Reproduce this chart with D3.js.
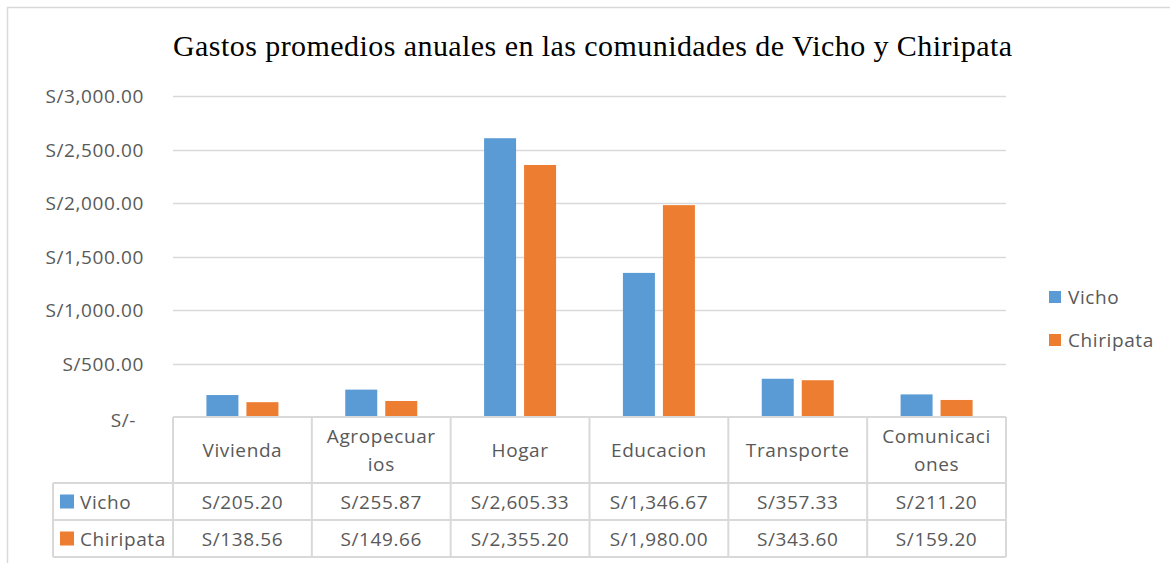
<!DOCTYPE html>
<html>
<head>
<meta charset="utf-8">
<script src="https://cdn.jsdelivr.net/npm/d3@7"></script>
<style>
  body { margin: 0; background: #fff; }
  svg { display: block; }
</style>
</head>
<body>
<svg id="chart"></svg>
<script>
const width = 1170;
const height = 563;

// data
const categories = ['Vivienda', 'Agropecuarios', 'Hogar', 'Educacion', 'Transporte', 'Comunicaciones'];
const seriesNames = ['Vicho', 'Chiripata'];
const vicho = [205.20, 255.87, 2605.33, 1346.67, 357.33, 211.20];
const chiripata = [138.56, 149.66, 2355.20, 1980.00, 343.60, 159.20];
const yTicks = [0, 500, 1000, 1500, 2000, 2500, 3000];
const colors = ['#5b9bd5', '#ed7d31'];
const title = 'Gastos promedios anuales en las comunidades de Vicho y Chiripata';

const series = [vicho, chiripata];

const marginLeft = 173, plotRight = 1006, plotTop = 96, plotBottom = 417;
const rowTops = [417, 483, 520, 557];
const legendColLeft = 53;
const textColor = '#595959';
const gridColor = '#d9d9d9';
const labelFont = "'Open Sans', sans-serif";
const labelSize = '19px';
const labelSpacing = '0.6px';

const svg = d3.select('#chart')
  .attr('width', width)
  .attr('height', height)
  .attr('viewBox', [0, 0, width, height]);

// chart border
svg.append('rect')
  .attr('x', 7.5).attr('y', 7.5)
  .attr('width', width).attr('height', height)
  .attr('fill', 'none')
  .attr('stroke', gridColor)
  .attr('stroke-width', 1.5);

const x = d3.scaleBand()
  .domain(categories)
  .range([marginLeft, plotRight]);

const xInner = d3.scaleBand()
  .domain(seriesNames)
  .range([0, 72])
  .paddingInner(0.2);

const y = d3.scaleLinear()
  .domain([0, 3000])
  .range([plotBottom, plotTop]);

const fmt = d3.format(',.2f');
const money = (v) => (v === 0 ? 'S/-' : 'S/' + fmt(v));

function label(sel) {
  return sel
    .style('font-family', labelFont)
    .style('font-size', labelSize)
    .style('letter-spacing', labelSpacing)
    .style('fill', textColor);
}

// title
svg.append('text')
  .attr('x', marginLeft)
  .attr('y', 56)
  .attr('textLength', 839)
  .attr('lengthAdjust', 'spacing')
  .style('font-family', "'Liberation Serif', 'Times New Roman', serif")
  .style('font-size', '30px')
  .style('fill', '#000')
  .text(title);

// grid
svg.append('g')
  .selectAll('line')
  .data(yTicks.filter((d) => d > 0))
  .join('line')
  .attr('x1', marginLeft)
  .attr('x2', plotRight)
  .attr('y1', (d) => Math.round(y(d)) + 0.5)
  .attr('y2', (d) => Math.round(y(d)) + 0.5)
  .attr('stroke', gridColor)
  .attr('stroke-width', 1.5);

// y labels
svg.append('g')
  .selectAll('text')
  .data(yTicks)
  .join('text')
  .attr('x', (d) => (d === 0 ? 136 : 144))
  .attr('y', (d) => y(d) + (d === 0 ? 3 : 0))
  .attr('text-anchor', 'end')
  .attr('dominant-baseline', 'central')
  .call(label)
  .text(money);

// bars
const groups = svg.append('g')
  .selectAll('g')
  .data(categories)
  .join('g')
  .attr('transform', (d) => `translate(${x(d) + x.bandwidth() / 2 - 36},0)`);

groups.selectAll('rect')
  .data((d, i) => seriesNames.map((s, j) => ({ s, j, v: series[j][i] })))
  .join('rect')
  .attr('x', (d) => xInner(d.s))
  .attr('width', xInner.bandwidth())
  .attr('y', (d) => y(d.v))
  .attr('height', (d) => y(0) - y(d.v))
  .attr('fill', (d) => colors[d.j]);

// data table
const table = svg.append('g')
  .attr('stroke', gridColor)
  .attr('stroke-width', 2)
  .attr('fill', 'none');

table.append('line')
  .attr('x1', marginLeft).attr('x2', plotRight)
  .attr('y1', rowTops[0]).attr('y2', rowTops[0]);
rowTops.slice(1).forEach((t) => {
  table.append('line')
    .attr('x1', legendColLeft).attr('x2', plotRight)
    .attr('y1', t).attr('y2', t);
});
table.append('line')
  .attr('x1', legendColLeft).attr('x2', legendColLeft)
  .attr('y1', rowTops[1]).attr('y2', rowTops[3]);
categories.concat([null]).forEach((c) => {
  const xx = c === null ? plotRight : x(c);
  table.append('line')
    .attr('x1', xx).attr('x2', xx)
    .attr('y1', rowTops[0]).attr('y2', rowTops[3]);
});

// category labels (wrapped like Excel at 10 chars)
const wrap = (s) => s.match(/.{1,10}/g);
const headerMid = (rowTops[0] + rowTops[1]) / 2;
const catText = svg.append('g')
  .selectAll('text')
  .data(categories)
  .join('text')
  .attr('text-anchor', 'middle')
  .call(label);

catText.each(function (d) {
  const lines = wrap(d);
  const lh = 28;
  const y0 = headerMid - (lines.length - 1) * lh / 2;
  d3.select(this).selectAll('tspan')
    .data(lines)
    .join('tspan')
    .attr('x', x(d) + x.bandwidth() / 2)
    .attr('y', (l, k) => y0 + k * lh)
    .attr('dominant-baseline', 'central')
    .text((l) => l);
});

// value rows
seriesNames.forEach((s, j) => {
  const mid = (rowTops[j + 1] + rowTops[j + 2]) / 2;
  svg.append('rect')
    .attr('x', 60).attr('y', mid - 7)
    .attr('width', 14).attr('height', 14)
    .attr('fill', colors[j]);
  svg.append('text')
    .attr('x', 80).attr('y', mid)
    .attr('dominant-baseline', 'central')
    .call(label)
    .text(s);
  svg.append('g')
    .selectAll('text')
    .data(series[j])
    .join('text')
    .attr('x', (d, i) => x(categories[i]) + x.bandwidth() / 2)
    .attr('y', mid)
    .attr('text-anchor', 'middle')
    .attr('dominant-baseline', 'central')
    .call(label)
    .text(money);
});

// legend
const legend = svg.append('g')
  .selectAll('g')
  .data(seriesNames)
  .join('g')
  .attr('transform', (d, i) => `translate(1049,${297 + i * 43})`);

legend.append('rect')
  .attr('x', 0).attr('y', -6)
  .attr('width', 12).attr('height', 12)
  .attr('fill', (d, i) => colors[i]);

legend.append('text')
  .attr('x', 19).attr('y', 0)
  .attr('dominant-baseline', 'central')
  .call(label)
  .text((d) => d);
</script>
</body>
</html>
